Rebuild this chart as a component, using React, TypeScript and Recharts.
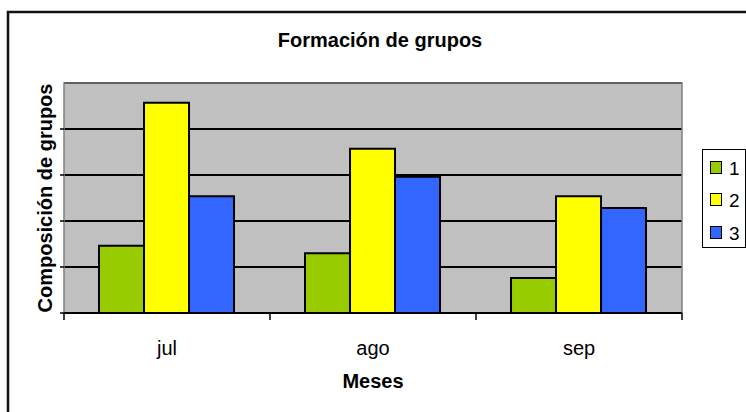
import {
  Bar,
  BarChart,
  CartesianGrid,
  Legend,
  ReferenceArea,
  XAxis,
  YAxis,
} from "recharts";

const meses = ["jul", "ago", "sep"];
const grupo1 = [1.46, 1.3, 0.76];
const grupo2 = [4.57, 3.57, 2.54];
const grupo3 = [2.54, 2.96, 2.28];
const nombres = ["1", "2", "3"];
const yTicks = [0, 1, 2, 3, 4];

const colores = ["#99CC00", "#FFFF00", "#3366FF"];
const FONT = '"Liberation Sans", Arial, sans-serif';

const data = meses.map((mes, i) => ({
  mes,
  g1: grupo1[i],
  g2: grupo2[i],
  g3: grupo3[i],
}));

// category label plus the small ticks that sit between categories
function MesTick(props: any) {
  const { x, y, payload, index } = props;
  const half = payload?.offset || 103;
  const last = index === meses.length - 1;
  return (
    <g>
      <line x1={x - half} x2={x - half} y1={y} y2={y + 7} stroke="#000" strokeWidth={1.5} />
      {last && (
        <line x1={x + half} x2={x + half} y1={y} y2={y + 7} stroke="#000" strokeWidth={1.5} />
      )}
      <text x={x} y={y + 42} textAnchor="middle" fontSize={20} fontFamily={FONT} fill="#000">
        {payload.value}
      </text>
    </g>
  );
}

function Leyenda({ payload }: any) {
  return (
    <div
      style={{
        width: 44,
        height: 99,
        boxSizing: "border-box",
        border: "1.5px solid #000",
        background: "#fff",
        paddingTop: 10,
        paddingLeft: 7,
      }}
    >
      {(payload || []).map((item: any) => (
        <div key={item.value} style={{ display: "flex", alignItems: "center", height: 32.5 }}>
          <span
            style={{
              width: 12,
              height: 13,
              boxSizing: "border-box",
              border: "1.5px solid #000",
              background: item.color,
              display: "inline-block",
              marginRight: 7,
              marginTop: -18,
            }}
          />
          <span style={{ fontFamily: FONT, fontSize: 19, lineHeight: "19px", marginTop: -16 }}>
            {item.value}
          </span>
        </div>
      ))}
    </div>
  );
}

export default function App() {
  return (
    <div style={{ position: "absolute", left: 0, top: 0, width: 746, height: 412, background: "#fff" }}>
      <BarChart
        width={746}
        height={412}
        data={data}
        margin={{ top: 83, right: 64, bottom: 59, left: 54 }}
        barCategoryGap="17%"
        barGap={0}
      >
        <CartesianGrid vertical={false} stroke="#000" strokeWidth={2} fill="#C0C0C0" fillOpacity={1} />
        <ReferenceArea y1={0} y2={5} fill="none" stroke="#808080" strokeWidth={1.5} />
        <XAxis
          dataKey="mes"
          height={40}
          tickSize={0}
          tickMargin={0}
          tickLine={false}
          axisLine={{ stroke: "#000", strokeWidth: 2 }}
          tick={<MesTick />}
          interval={0}
          label={{
            content: ({ viewBox }: any) => (
              <text
                x={viewBox.x + viewBox.width / 2}
                y={388}
                textAnchor="middle"
                fontSize={20}
                fontWeight="bold"
                fontFamily={FONT}
                fill="#000"
              >
                Meses
              </text>
            ),
          }}
        />
        <YAxis
          width={10}
          domain={[0, 5]}
          ticks={yTicks}
          tickSize={4}
          tickMargin={0}
          tickFormatter={() => ""}
          tickLine={{ stroke: "#000", strokeWidth: 1.5 }}
          axisLine={false}
          label={{
            content: ({ viewBox }: any) => {
              const cy = viewBox.y + viewBox.height / 2;
              return (
                <text
                  x={52}
                  y={cy}
                  transform={`rotate(-90, 52, ${cy})`}
                  textAnchor="middle"
                  fontSize={20}
                  fontWeight="bold"
                  fontFamily={FONT}
                  fill="#000"
                >
                  Composición de grupos
                </text>
              );
            },
          }}
        />
        <Legend
          layout="vertical"
          align="center"
          verticalAlign="middle"
          content={<Leyenda />}
          wrapperStyle={{ left: 702, top: 149, width: 44, height: 99 }}
        />
        {["g1", "g2", "g3"].map((key, i) => (
          <Bar
            key={key}
            dataKey={key}
            name={nombres[i]}
            fill={colores[i]}
            stroke="#000"
            strokeWidth={2}
            isAnimationActive={false}
          />
        ))}
      </BarChart>
      <svg
        width={746}
        height={412}
        style={{ position: "absolute", left: 0, top: 0, pointerEvents: "none" }}
      >
        <path d="M8 412 V12 H746" fill="none" stroke="#111" strokeWidth={2.5} />
        <text x={380} y={47} textAnchor="middle" fontSize={20} fontWeight="bold" fontFamily={FONT} fill="#000">
          Formación de grupos
        </text>
      </svg>
    </div>
  );
}
